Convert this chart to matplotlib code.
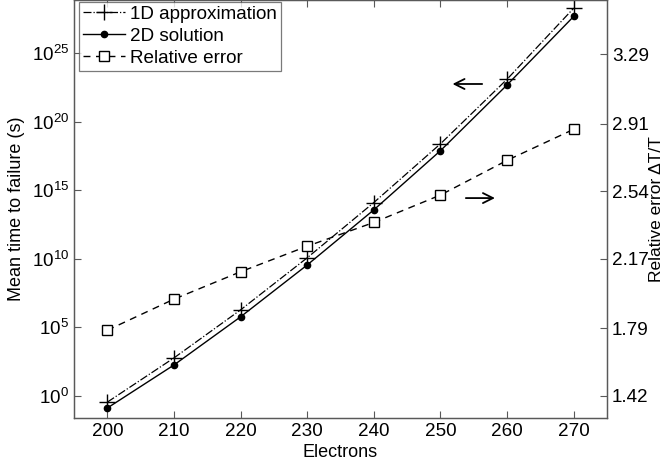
"""Mean time to failure vs. electrons, 1D approximation vs 2D solution, with relative error."""

import matplotlib
matplotlib.use("Agg")
import matplotlib.pyplot as plt
from matplotlib.ticker import FixedLocator, NullLocator

plt.rcParams["font.family"] = ["Liberation Sans", "DejaVu Sans"]
plt.rcParams["mathtext.default"] = "regular"

# values
electrons = [200, 210, 220, 230, 240, 250, 260, 270]
mttf_1d = [3.5e-1, 5.9e2, 1.9e6, 1.2e10, 1.3e14, 2.5e18, 1.3e23, 2.0e28]
mttf_2d = [1.3e-1, 1.8e2, 5.9e5, 3.6e9, 3.8e13, 7.9e17, 5.0e22, 5.0e27]
rel_err = [1.78, 1.95, 2.10, 2.24, 2.37, 2.52, 2.71, 2.88]

x_ticks = [200, 210, 220, 230, 240, 250, 260, 270]
left_ticks = [1e0, 1e5, 1e10, 1e15, 1e20, 1e25]
right_ticks = [1.42, 1.79, 2.17, 2.54, 2.91, 3.29]

spine_col = "0.35"
tick_fs = 13.6
label_fs = 13

fig = plt.figure(figsize=(6.67, 4.69), dpi=100)
ax = fig.add_axes([0.111, 0.109, 0.799, 0.891])
ax2 = ax.twinx()

l1, = ax.plot(electrons, mttf_1d, color="black", lw=0.9, ls="-.", marker="+",
              markersize=12, markeredgewidth=1.0, label="1D approximation")
l2, = ax.plot(electrons, mttf_2d, color="black", lw=1.0, ls="-", marker="o",
              markersize=4.5, label="2D solution")
l3, = ax2.plot(electrons, rel_err, color="black", lw=1.0, ls=(0, (5, 4)), marker="s",
               markersize=7.5, markerfacecolor="white", markeredgewidth=1.0,
               label="Relative error")

ax.set_yscale("log")
ax.set_xlim(195, 275)
ax.set_ylim(10 ** -1.606, 10 ** 28.9)
ax2.set_ylim(1.300, 3.588)

ax.set_xticks(x_ticks)
ax.yaxis.set_major_locator(FixedLocator(left_ticks))
ax.yaxis.set_minor_locator(NullLocator())
ax2.set_yticks(right_ticks)
ax2.set_yticklabels([f"{v:.2f}" for v in right_ticks])

ax.tick_params(axis="both", direction="in", length=5, width=0.8, color=spine_col,
               labelsize=tick_fs, top=True, right=False)
ax2.tick_params(axis="y", direction="in", length=5, width=0.8, color=spine_col,
                labelsize=tick_fs)
for a in (ax, ax2):
    for s in a.spines.values():
        s.set_color(spine_col)
        s.set_linewidth(0.9)

ax.set_xlabel("Electrons", fontsize=label_fs, labelpad=3)
ax.set_ylabel("Mean time to failure (s)", fontsize=label_fs, labelpad=5)
ax2.set_ylabel("Relative error \u0394T/T", fontsize=12.5, labelpad=0)

# direction arrows pointing to each axis
ax.annotate("", xy=(0.705, 0.799), xytext=(0.771, 0.799), xycoords="axes fraction",
            arrowprops=dict(arrowstyle="->", lw=1.3, color="black", mutation_scale=18))
ax.annotate("", xy=(0.795, 0.526), xytext=(0.730, 0.526), xycoords="axes fraction",
            arrowprops=dict(arrowstyle="->", lw=1.3, color="black", mutation_scale=18))

leg = ax2.legend(handles=[l1, l2, l3], loc="upper left", bbox_to_anchor=(0.010, 0.995),
                 fontsize=tick_fs, frameon=True, fancybox=False, handlelength=2.2,
                 handletextpad=0.3, labelspacing=0.25, borderpad=0.2, borderaxespad=0.0)
leg.get_frame().set_edgecolor(spine_col)
leg.get_frame().set_linewidth(0.9)

fig.savefig("out.png", dpi=100)
plt.close(fig)
